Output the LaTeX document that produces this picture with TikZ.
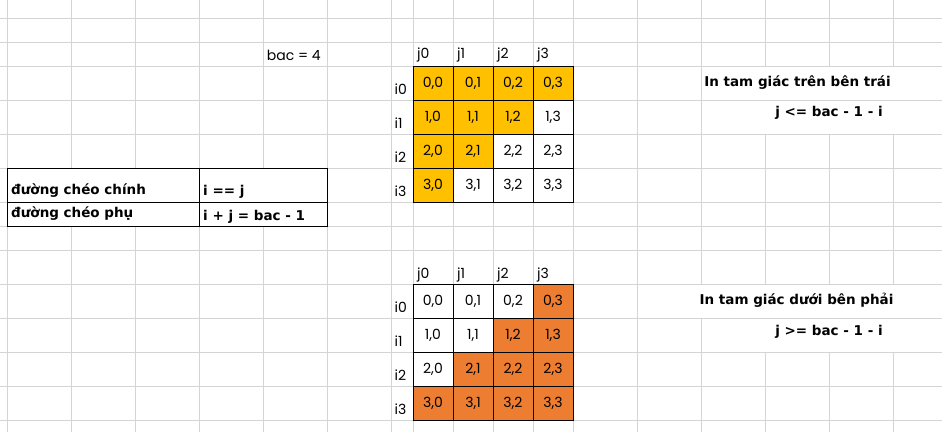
\documentclass[tikz,border=0pt]{standalone}
\usepackage{fontspec}
\setmainfont{Poppins}
\newfontfamily\bfont{DejaVu Sans}
\definecolor{gridc}{HTML}{D4D4D4}
\definecolor{gold}{HTML}{FFC000}
\definecolor{orng}{HTML}{ED7D31}
\begin{document}
\begin{tikzpicture}[x=1pt,y=-1pt,
  gridline/.style={draw=gridc, line width=1pt},
  cell/.style={draw=black, line width=1pt, minimum width=40pt, minimum height=34pt, inner sep=0pt, font=\fontsize{14}{14}\selectfont},
  lbl/.style={inner sep=0pt, anchor=base west, font=\fontsize{14}{14}\selectfont},
  blbl/.style={inner sep=0pt, font=\bfont\bfseries\fontsize{13.5}{13.5}\selectfont},
  tcell/.style={draw=black, line width=1pt, fill=white, inner sep=0pt, anchor=north west},
]
\useasboundingbox (0,0) rectangle (942,432);
\fill[white] (0,0) rectangle (942,432);
% spreadsheet grid
\foreach \x in {7,71,135,199,263,327,391,413,453,493,533,573,637,701,765,829,893}
  \draw[gridline] (\x,0) -- (\x,432);
\foreach \y in {18.3,42.3,66.3,100.3,134.3,168.3,202.3,226.3,250.3,284.3,318.3,352.3,386.3,420.3}
  \draw[gridline] (0,\y) -- (942,\y);
% text overflow areas hide the grid
\fill[white] (702,66.8) rectangle (942,99.8);
\fill[white] (702,100.8) rectangle (942,133.8);
\fill[white] (638,284.8) rectangle (942,317.8);
\fill[white] (702,318.8) rectangle (942,351.8);

\node[lbl] (bac) at (266.7,60) {bac = 4};

% upper matrix
\foreach \i in {0,...,3}{
  \foreach \j in {0,...,3}{
    \pgfmathtruncatemacro\s{\i+\j}
    \ifnum\s<4 \def\fc{gold}\else\def\fc{white}\fi
    \node[cell, fill=\fc] (t\i\j) at ({433+40*\j},{83.3+34*\i}) {\i,\j};
  }
  \node[lbl] (tj\i) at ({417+40*\i},58.5) {j\i};
  \node[lbl] (ti\i) at (394.5,{94+34*\i}) {i\i};
}
% lower matrix
\foreach \i in {0,...,3}{
  \foreach \j in {0,...,3}{
    \pgfmathtruncatemacro\s{\i+\j}
    \ifnum\s>2 \def\fc{orng}\else\def\fc{white}\fi
    \node[cell, fill=\fc] (b\i\j) at ({433+40*\j},{301.3+34*\i}) {\i,\j};
  }
  \node[lbl] (bj\i) at ({417+40*\i},278.3) {j\i};
  \node[lbl] (bi\i) at (394.5,{312.3+34*\i}) {i\i};
}

% left table
\node[tcell, minimum width=192pt, minimum height=34pt] (c11) at (7,168.3) {};
\node[tcell, minimum width=128pt, minimum height=34pt] (c12) at (199,168.3) {};
\node[tcell, minimum width=192pt, minimum height=24pt] (c21) at (7,202.3) {};
\node[tcell, minimum width=128pt, minimum height=24pt] (c22) at (199,202.3) {};
\node[blbl, anchor=base west] (t11) at (11,194.5) {đường chéo chính};
\node[blbl, anchor=base west] (t12) at (203,195.5) {i == j};
\node[blbl, anchor=base west] (t21) at (11,217.5) {đường chéo phụ};
\node[blbl, anchor=base west] (t22) at (203,220) {i + j = bac - 1};

% right labels
\node[blbl, anchor=base] (lab1) at (797.5,86.5) {In tam giác trên bên trái};
\node[blbl, anchor=base] (cond1) at (829,116.5) {j <= bac - 1 - i};
\node[blbl, anchor=base] (lab2) at (796.5,304) {In tam giác dưới bên phải};
\node[blbl, anchor=base] (cond2) at (829,335) {j >= bac - 1 - i};
\end{tikzpicture}
\end{document}
